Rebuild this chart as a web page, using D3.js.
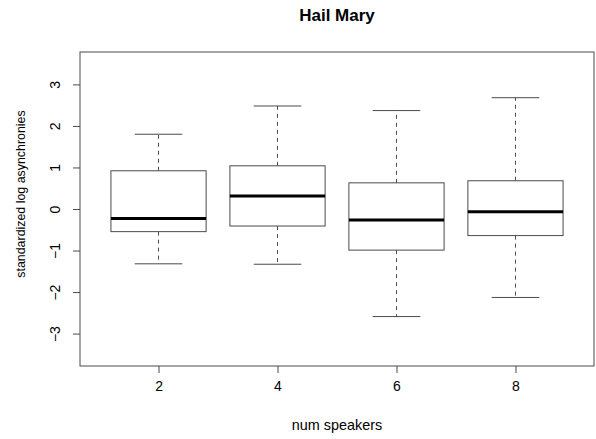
<!DOCTYPE html>
<html>
<head>
<meta charset="utf-8">
<script src="https://cdn.jsdelivr.net/npm/d3@7"></script>
<style>
  body { margin: 0; background: #fff; }
  svg text { font-family: "Liberation Sans", Arial, Helvetica, sans-serif; fill: #000; }
</style>
</head>
<body>
<div id="chart"></div>
<script>
// data
const categories = ["2", "4", "6", "8"];
const upperWhisker = [1.80, 2.48, 2.37, 2.68];
const upperQuartile = [0.92, 1.04, 0.63, 0.68];
const medians = [-0.23, 0.31, -0.265, -0.065];
const lowerQuartile = [-0.545, -0.41, -0.99, -0.64];
const lowerWhisker = [-1.32, -1.33, -2.59, -2.13];
const yTicks = [-3, -2, -1, 0, 1, 2, 3];

const width = 596, height = 439;
const plot = { left: 80, right: 594, top: 52, bottom: 366 };
const lineColor = "#4a4a4a";

const svg = d3.select("#chart").append("svg")
    .attr("width", width)
    .attr("height", height);

// R-style 4% padding around the data range
const xScale = d3.scaleLinear()
    .domain([0.34, categories.length + 0.66])
    .range([plot.left, plot.right]);

const yScale = d3.scaleLinear()
    .domain([-3.5 - 0.28, 3.5 + 0.28])
    .range([plot.bottom, plot.top]);

const boxHalf = 0.4, capHalf = 0.2;

const boxes = svg.append("g").selectAll("g")
    .data(categories.map((c, i) => ({
        pos: i + 1, hi: upperWhisker[i], q3: upperQuartile[i], med: medians[i],
        q1: lowerQuartile[i], lo: lowerWhisker[i]
    })))
    .enter().append("g");

// dashed whiskers
boxes.append("line")
    .attr("x1", d => xScale(d.pos)).attr("x2", d => xScale(d.pos))
    .attr("y1", d => yScale(d.q3)).attr("y2", d => yScale(d.hi))
    .attr("stroke", lineColor).attr("stroke-dasharray", "4,4");
boxes.append("line")
    .attr("x1", d => xScale(d.pos)).attr("x2", d => xScale(d.pos))
    .attr("y1", d => yScale(d.q1)).attr("y2", d => yScale(d.lo))
    .attr("stroke", lineColor).attr("stroke-dasharray", "4,4");

// caps
boxes.append("line")
    .attr("x1", d => xScale(d.pos - capHalf)).attr("x2", d => xScale(d.pos + capHalf))
    .attr("y1", d => yScale(d.hi)).attr("y2", d => yScale(d.hi))
    .attr("stroke", lineColor);
boxes.append("line")
    .attr("x1", d => xScale(d.pos - capHalf)).attr("x2", d => xScale(d.pos + capHalf))
    .attr("y1", d => yScale(d.lo)).attr("y2", d => yScale(d.lo))
    .attr("stroke", lineColor);

boxes.append("rect")
    .attr("x", d => xScale(d.pos - boxHalf))
    .attr("y", d => yScale(d.q3))
    .attr("width", d => xScale(d.pos + boxHalf) - xScale(d.pos - boxHalf))
    .attr("height", d => yScale(d.q1) - yScale(d.q3))
    .attr("fill", "#fff")
    .attr("stroke", lineColor);

boxes.append("line")
    .attr("x1", d => xScale(d.pos - boxHalf)).attr("x2", d => xScale(d.pos + boxHalf))
    .attr("y1", d => yScale(d.med)).attr("y2", d => yScale(d.med))
    .attr("stroke", "#000").attr("stroke-width", 3);

// frame
svg.append("rect")
    .attr("x", plot.left).attr("y", plot.top)
    .attr("width", plot.right - plot.left).attr("height", plot.bottom - plot.top)
    .attr("fill", "none").attr("stroke", lineColor);

// x axis
const xAxis = svg.append("g")
    .attr("transform", `translate(0, ${plot.bottom})`)
    .call(d3.axisBottom(xScale)
        .tickValues(categories.map((c, i) => i + 1))
        .tickFormat((d, i) => categories[i])
        .tickSize(7).tickPadding(8));
xAxis.select(".domain").remove();
xAxis.selectAll("line").attr("stroke", lineColor);
xAxis.selectAll("text").attr("font-size", 14).attr("font-family", null).attr("fill", "#000");

// y axis with rotated labels
const yAxis = svg.append("g")
    .attr("transform", `translate(${plot.left}, 0)`)
    .call(d3.axisLeft(yScale).tickValues(yTicks).tickFormat(d3.format("d")).tickSize(7));
yAxis.select(".domain").remove();
yAxis.selectAll("line").attr("stroke", lineColor);
yAxis.selectAll("text")
    .attr("font-size", 14).attr("font-family", null).attr("fill", "#000")
    .attr("x", null).attr("dy", null)
    .attr("text-anchor", "middle")
    .attr("transform", "translate(-20, 0) rotate(-90)");

svg.append("text")
    .attr("x", (plot.left + plot.right) / 2).attr("y", 21)
    .attr("text-anchor", "middle")
    .attr("font-size", 17).attr("font-weight", "bold")
    .text("Hail Mary");

svg.append("text")
    .attr("x", (plot.left + plot.right) / 2).attr("y", 430)
    .attr("text-anchor", "middle")
    .attr("font-size", 14.4)
    .text("num speakers");

svg.append("text")
    .attr("transform", `translate(25, ${(plot.top + plot.bottom) / 2 - 15}) rotate(-90)`)
    .attr("text-anchor", "middle")
    .attr("font-size", 12.4)
    .text("standardized log asynchronies");
</script>
</body>
</html>
